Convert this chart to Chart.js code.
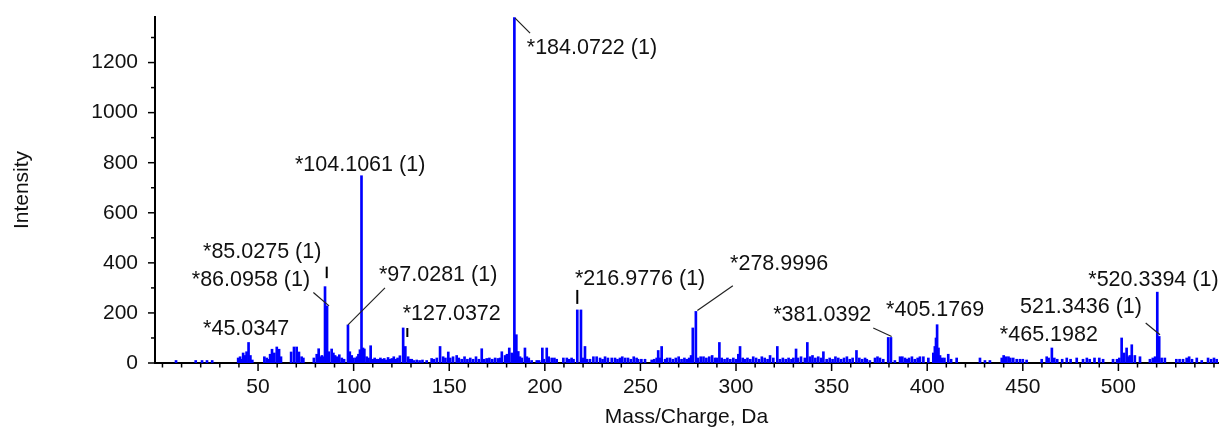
<!DOCTYPE html>
<html>
<head>
<meta charset="utf-8">
<title>Mass spectrum</title>
<script src="https://cdn.jsdelivr.net/npm/chart.js@4.4.0/dist/chart.umd.min.js"></script>
<style>
  html, body { margin: 0; padding: 0; background: #fff; }
  #wrap { width: 1222px; height: 430px; }
</style>
</head>
<body>
<div id="wrap"><canvas id="spectrum" width="1222" height="430"></canvas></div>
<script>
// centroided peak list: m/z and intensity, same order
const massCharge = [
  7.1, 17.4, 20.7, 23.3, 26.0, 39.6, 40.6, 41.5, 42.2, 43.1,
  44.0, 45.0347, 46.0, 47.0, 53.3, 54.5, 55.4, 56.3, 57.3, 58.5,
  59.8, 61.0, 62.0, 67.3, 68.8, 70.2, 71.4, 72.8, 73.7, 79.2,
  80.7, 81.7, 82.6, 83.4, 84.2, 85.0275, 86.0958, 87.0, 88.5, 89.4,
  90.3, 91.2, 92.5, 93.8, 95.0, 97.0281, 98.0, 99.0, 99.8, 101.0,
  101.8, 102.5, 103.3, 104.1061, 104.9, 105.6, 106.8, 107.8, 108.9, 110.0,
  111, 112, 113, 114, 115, 116, 117, 118, 119, 120,
  121, 122, 123, 124.2, 125.9, 127.0372, 128.5, 129.5, 130.4, 131.5,
  133, 134.5, 136, 138.2, 140.8, 142, 143.5, 145.2, 146.8, 148,
  149.5, 150.5, 152, 153.9, 155, 156.5, 158, 159.5, 161, 162.5,
  164, 165.5, 167, 168.3, 169.6, 171, 172.5, 174, 175.5, 176.6,
  177.5, 179.2, 180.2, 181.4, 182.7, 183.4, 184.0722, 185.1, 186.1, 187,
  188, 189.6, 190.6, 191.6, 193.1, 195.8, 197, 198.7, 199.5, 201,
  202, 203.6, 205, 206.2, 209.7, 211.5, 212.8, 214, 215, 216.9776,
  218.9, 220, 221, 222, 223.6, 225.4, 227.1, 228.9, 230.2, 231.5,
  233, 235, 236.7, 238, 239.3, 240.5, 242, 243.5, 245, 246.5,
  248, 248.8, 250.5, 252.4, 255.9, 257.2, 258.5, 259.3, 260.2, 261.1,
  262.9, 264, 265.5, 267, 268.5, 270, 271.5, 273, 274.2, 275.5,
  276.5, 277.4, 278.9996, 280, 281.5, 283, 284.5, 286, 287.5, 289,
  289.9, 291.3, 292.5, 294, 295.5, 297, 298.6, 300, 301.2, 302.1,
  303.5, 304.7, 306, 307.5, 309, 310.5, 312, 313.5, 315, 316.5,
  317.8, 319.5, 321.6, 323, 324.5, 326, 327.5, 329, 330, 331.4,
  332.4, 334, 336, 337.3, 338.7, 340, 341.5, 343, 344.5, 345.7,
  347.4, 349, 350.5, 352, 353.5, 355, 356.5, 358, 359.5, 361,
  363, 364.5, 366, 367.5, 368.4, 370, 372.7, 374, 375.3, 377,
  379.6, 381.0392, 383.1, 385.8, 387, 388.4, 389.3, 390.5, 392, 393.5,
  395, 396.2, 398, 400.6, 403.2, 404, 404.6, 405.1769, 405.9, 406.7,
  407.8, 409, 411, 412.5, 415.4, 427.6, 430.2, 432.8, 439, 440,
  441.2, 442.5, 443.5, 445, 446.8, 448.5, 450, 452, 459.9, 462.5,
  463.5, 465.1982, 466.5, 468, 470.6, 473, 475, 478.2, 481.5, 483.5,
  485, 487.5, 490, 492, 497.2, 499.3, 500.5, 501.7, 503, 504.3,
  505.2, 506, 507, 508.6, 511.3, 516.5, 518, 519.2, 520.3394, 521.3436,
  522.6, 524.3, 530.3, 532, 533.8, 535.7, 537, 538.5, 541, 543.6,
  546.9, 548.5, 550, 551.4
];
const intensity = [
  10, 10, 10, 10, 10, 20, 25, 15, 40, 30,
  45, 82, 30, 12, 25, 20, 15, 35, 55, 40,
  64, 55, 25, 44, 64, 64, 44, 25, 20, 20,
  35, 57, 25, 30, 25, 305, 228, 45, 56, 40,
  30, 25, 33, 20, 15, 152, 45, 30, 20, 20,
  25, 35, 53, 748, 60, 56, 25, 20, 69, 15,
  20, 15, 15, 20, 15, 18, 12, 22, 15, 18,
  25, 15, 20, 29, 140, 66, 25, 15, 15, 10,
  12, 10, 12, 10, 18, 15, 20, 66, 25, 20,
  44, 20, 25, 30, 20, 15, 25, 15, 20, 15,
  25, 15, 57, 15, 18, 20, 15, 20, 18, 20,
  45, 30, 35, 60, 40, 35, 1380, 113, 46, 25,
  20, 60, 25, 20, 10, 10, 10, 60, 15, 60,
  25, 20, 20, 15, 20, 20, 15, 20, 15, 212,
  212, 20, 66, 15, 15, 25, 25, 20, 15, 25,
  20, 20, 20, 15, 20, 25, 20, 20, 15, 25,
  20, 15, 15, 15, 12, 15, 20, 50, 20, 66,
  15, 20, 20, 15, 20, 25, 15, 20, 15, 20,
  30, 140, 206, 20, 25, 25, 20, 25, 30, 20,
  20, 82, 20, 15, 20, 15, 20, 15, 35, 66,
  20, 15, 20, 15, 25, 20, 15, 25, 20, 15,
  30, 20, 66, 15, 20, 15, 20, 15, 20, 56,
  20, 25, 20, 82, 25, 30, 20, 25, 20, 45,
  15, 20, 15, 25, 20, 15, 20, 25, 15, 20,
  50, 20, 15, 20, 15, 10, 20, 25, 20, 15,
  102, 102, 10, 25, 25, 20, 15, 20, 25, 15,
  20, 25, 25, 20, 40, 66, 100, 153, 60, 30,
  20, 20, 35, 15, 20, 20, 10, 10, 20, 30,
  25, 25, 20, 20, 15, 15, 15, 12, 15, 25,
  20, 60, 20, 15, 15, 20, 15, 20, 15, 20,
  15, 20, 20, 15, 15, 15, 20, 100, 40, 60,
  25, 30, 73, 30, 25, 15, 20, 25, 283, 106,
  20, 20, 15, 15, 15, 20, 25, 15, 20, 10,
  20, 15, 20, 15
];

// annotated peaks
const labelMz = [45.0347, 85.0275, 86.0958, 97.0281, 104.1061, 127.0372, 184.0722,
  216.9776, 278.9996, 381.0392, 405.1769, 465.1982, 521.3436, 520.3394];
const labelText = ['*45.0347', '*85.0275 (1)', '*86.0958 (1)', '*97.0281 (1)', '*104.1061 (1)',
  '*127.0372', '*184.0722 (1)', '*216.9776 (1)', '*278.9996', '*381.0392', '*405.1769',
  '*465.1982', '521.3436 (1)', '*520.3394 (1)'];

// labelled axis ticks
const xTickLabels = [50, 100, 150, 200, 250, 300, 350, 400, 450, 500];
const yTickLabels = [0, 200, 400, 600, 800, 1000, 1200];

// text offset from the peak top (px), plus either a leader line or a short dash mark
const labelLayout = [
  { dx: -45.5, dy: -7.7 },
  { dx: -122, dy: -29, mark: [1.7, -20, -8.5] },
  { dx: -135.3, dy: -20, line: [-13.7, -13.4, 2, 0] },
  { dx: 31, dy: -44, line: [37, -37, 0, 0] },
  { dx: -66.5, dy: -5 },
  { dx: -2.6, dy: -26.8, mark: [2, -18.5, -9.5] },
  { dx: 12.4, dy: 36, line: [0.7, 0.7, 15.7, 15.7] },
  { dx: -2.3, dy: -25, mark: [0, -20, -6] },
  { dx: 34.2, dy: -41.6, line: [37, -25.6, 1.5, -1] },
  { dx: -117.7, dy: -16, line: [-17.7, -9.4, 0.7, -1] },
  { dx: -51, dy: -8.4 },
  { dx: -52, dy: -6.6 },
  { dx: -139.2, dy: -23.4, line: [-13.5, -13.4, 0.8, -1.7] },
  { dx: -69, dy: -6.3 }
];

const FONT = "'Liberation Sans', Arial, sans-serif";

// minor/major tick marks, peak labels and their leaders
const spectrumDecor = {
  id: 'spectrumDecor',
  afterDatasetsDraw(chart) {
    const { ctx, chartArea, scales: { x, y } } = chart;
    ctx.save();
    ctx.strokeStyle = '#000';
    ctx.lineWidth = 1.5;

    for (let v = 0; v <= 1300; v += 100) {
      const py = y.getPixelForValue(v);
      const len = yTickLabels.includes(v) ? 7 : 4;
      ctx.beginPath();
      ctx.moveTo(chartArea.left - len, py);
      ctx.lineTo(chartArea.left, py);
      ctx.stroke();
    }
    for (let v = 0; v <= 550; v += 10) {
      const px = x.getPixelForValue(v);
      const len = xTickLabels.includes(v) ? 8 : 4.5;
      ctx.beginPath();
      ctx.moveTo(px, chartArea.bottom);
      ctx.lineTo(px, chartArea.bottom + len);
      ctx.stroke();
    }

    ctx.font = '21.5px ' + FONT;
    ctx.textAlign = 'left';
    ctx.textBaseline = 'alphabetic';
    labelMz.forEach((mz, i) => {
      const idx = massCharge.indexOf(mz);
      const px = x.getPixelForValue(mz);
      const py = y.getPixelForValue(intensity[idx]);
      const lay = labelLayout[i];
      ctx.fillStyle = '#111';
      ctx.fillText(labelText[i], px + lay.dx, py + lay.dy);
      if (lay.line) {
        ctx.strokeStyle = '#222';
        ctx.lineWidth = 1.2;
        ctx.beginPath();
        ctx.moveTo(px + lay.line[0], py + lay.line[1]);
        ctx.lineTo(px + lay.line[2], py + lay.line[3]);
        ctx.stroke();
      }
      if (lay.mark) {
        ctx.strokeStyle = '#000';
        ctx.lineWidth = 2;
        ctx.beginPath();
        ctx.moveTo(px + lay.mark[0], py + lay.mark[1]);
        ctx.lineTo(px + lay.mark[0], py + lay.mark[2]);
        ctx.stroke();
      }
    });
    ctx.restore();
  }
};

new Chart(document.getElementById('spectrum'), {
  type: 'bar',
  data: {
    datasets: [{
      data: massCharge.map((mz, i) => ({ x: mz, y: intensity[i] })),
      backgroundColor: '#0000ff',
      borderWidth: 0,
      barThickness: 2,
      grouped: false
    }]
  },
  options: {
    responsive: false,
    animation: false,
    devicePixelRatio: 1,
    layout: { padding: { top: 17, right: 4, left: 0, bottom: 0 } },
    plugins: { legend: { display: false }, tooltip: { enabled: false } },
    scales: {
      x: {
        type: 'linear',
        offset: false,
        min: -3.9,
        max: 552.1,
        border: { display: true, color: '#000', width: 2 },
        grid: { display: false, drawTicks: false, offset: false },
        afterBuildTicks: s => { s.ticks = xTickLabels.map(v => ({ value: v })); },
        afterFit: s => { s.height = 67; s.paddingLeft = 0; s.paddingRight = 0; },
        ticks: {
          autoSkip: false, maxRotation: 0, padding: 14, color: '#111',
          font: { family: FONT, size: 21, lineHeight: 1 },
          callback: v => String(v)
        },
        title: {
          display: true, text: 'Mass/Charge, Da', color: '#111',
          font: { family: FONT, size: 21, lineHeight: 1 }, padding: { top: 0, bottom: 2 }
        }
      },
      y: {
        min: 0,
        max: 1382,
        border: { display: true, color: '#000', width: 2 },
        grid: { display: false, drawTicks: false },
        afterBuildTicks: s => { s.ticks = yTickLabels.map(v => ({ value: v })); },
        afterFit: s => { s.width = 155; s.paddingTop = 0; s.paddingBottom = 0; },
        ticks: {
          padding: 17, color: '#111',
          font: { family: FONT, size: 21, lineHeight: 1 },
          callback: v => String(v)
        },
        title: {
          display: true, text: 'Intensity', color: '#111',
          font: { family: FONT, size: 21, lineHeight: 1 }, padding: { top: 12, bottom: 0 }
        }
      }
    }
  },
  plugins: [spectrumDecor]
});
</script>
</body>
</html>
